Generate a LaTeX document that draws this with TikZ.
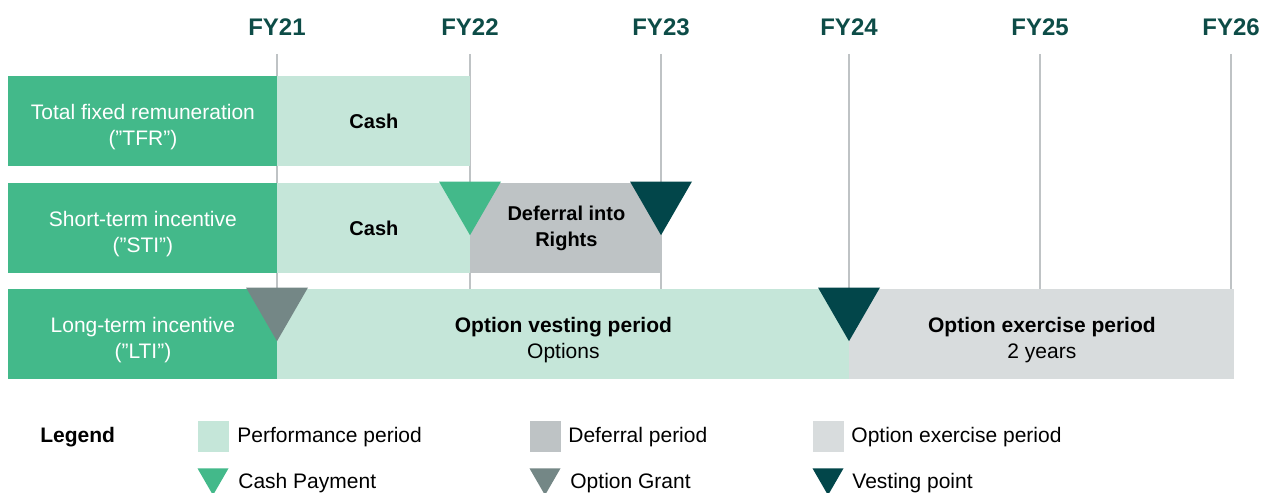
\documentclass[tikz,border=0pt]{standalone}
\usepackage{fontspec}
\setmainfont{Liberation Sans}
\usetikzlibrary{positioning,shapes.geometric}

\definecolor{rowgreen}{HTML}{43B98A}
\definecolor{perflight}{HTML}{C5E6D9}
\definecolor{defgray}{HTML}{BEC3C5}
\definecolor{exgray}{HTML}{D8DCDD}
\definecolor{grantgray}{HTML}{748786}
\definecolor{vestteal}{HTML}{02464A}
\definecolor{yearteal}{HTML}{0D4C47}
\definecolor{gridgray}{HTML}{BFC3C5}

\begin{document}
\begin{tikzpicture}[
    x=0.5pt, y=-0.5pt,
    year/.style={text=yearteal, font=\fontsize{12}{14}\selectfont\bfseries},
    gridline/.style={draw=gridgray, line width=1pt, shorten <=13.5pt},
    bar/.style={anchor=north west, inner sep=0pt, minimum height=45pt,
      align=center, font=\fontsize{10.5}{13}\selectfont},
    twoline/.style={text height=26.4pt, text depth=2.7pt},
    rowlabel/.style={bar, twoline, fill=rowgreen, text=white, minimum width=134.5pt},
    perf/.style={bar, fill=perflight},
    deferral/.style={bar, fill=defgray},
    exercise/.style={bar, fill=exgray},
    marker/.style={regular polygon, regular polygon sides=3,
      shape border rotate=180, inner sep=0pt, anchor=corner 1,
      minimum size=35.8pt},
    keybox/.style={anchor=north west, inner sep=0pt, minimum size=15.5pt},
    keymark/.style={marker, minimum size=17.9pt},
    keytext/.style={anchor=west, inner sep=0pt, font=\fontsize{10.5}{13}\selectfont}
  ]
  \useasboundingbox (0,0) rectangle (1267,492);

  % Years and grid lines
  \foreach \yr/\x in {21/277, 22/470, 23/661, 24/849, 25/1040, 26/1231} {
    \node[year] (fy\yr) at (\x,27) {FY\yr};
    \coordinate (g\yr) at (\x,289);
    \draw[gridline] (fy\yr.center) -- (g\yr);
  }

  % Total fixed remuneration
  \node[rowlabel] (tfr) at (8,76) {Total fixed remuneration\\(”TFR”)};
  \node[perf, minimum width=96.5pt, font=\fontsize{10}{13}\selectfont\bfseries]
    (tfrcash) at (277,76) {Cash};

  % Short-term incentive
  \node[rowlabel] (sti) at (8,183) {Short-term incentive\\(”STI”)};
  \node[perf, minimum width=96.5pt, font=\fontsize{10}{13}\selectfont\bfseries]
    (sticash) at (277,183) {Cash};
  \node[deferral, minimum width=96pt, font=\fontsize{10}{13}\selectfont\bfseries]
    (stidef) at (470,183) {Deferral into\\Rights};
  \node[marker, fill=rowgreen] (pay) at (470,236) {};
  \node[marker, fill=vestteal] (stivest) at (661,236) {};

  % Long-term incentive
  \node[rowlabel] (lti) at (8,289) {Long-term incentive\\(”LTI”)};
  \node[perf, twoline, minimum width=286pt] (ltivest) at (277,289)
    {{\bfseries Option vesting period}\\Options};
  \node[exercise, twoline, minimum width=192.5pt] (ltiex) at (849,289)
    {{\bfseries Option exercise period}\\2 years};
  \node[marker, fill=grantgray] (grant) at (277,342) {};
  \node[marker, fill=vestteal] (ltivestpt) at (849,342) {};

  % Legend
  \node[keytext, font=\fontsize{10.5}{13}\selectfont\bfseries] (legend) at (40,437) {Legend};
  \node[keybox, fill=perflight] (kperf) at (198,421) {};
  \node[keytext] (tperf) at (237,437) {Performance period};
  \node[keybox, fill=defgray] (kdef) at (530,421) {};
  \node[keytext] (tdef) at (568,437) {Deferral period};
  \node[keybox, fill=exgray] (kex) at (813,421) {};
  \node[keytext] (tex) at (851,437) {Option exercise period};

  \node[keymark, fill=rowgreen] (kpay) at (213,496) {};
  \node[keytext] (tpay) at (238,483) {Cash Payment};
  \node[keymark, fill=grantgray] (kgrant) at (545,496) {};
  \node[keytext] (tgrant) at (570,483) {Option Grant};
  \node[keymark, fill=vestteal] (kvest) at (828,496) {};
  \node[keytext] (tvest) at (852,483) {Vesting point};
\end{tikzpicture}
\end{document}
